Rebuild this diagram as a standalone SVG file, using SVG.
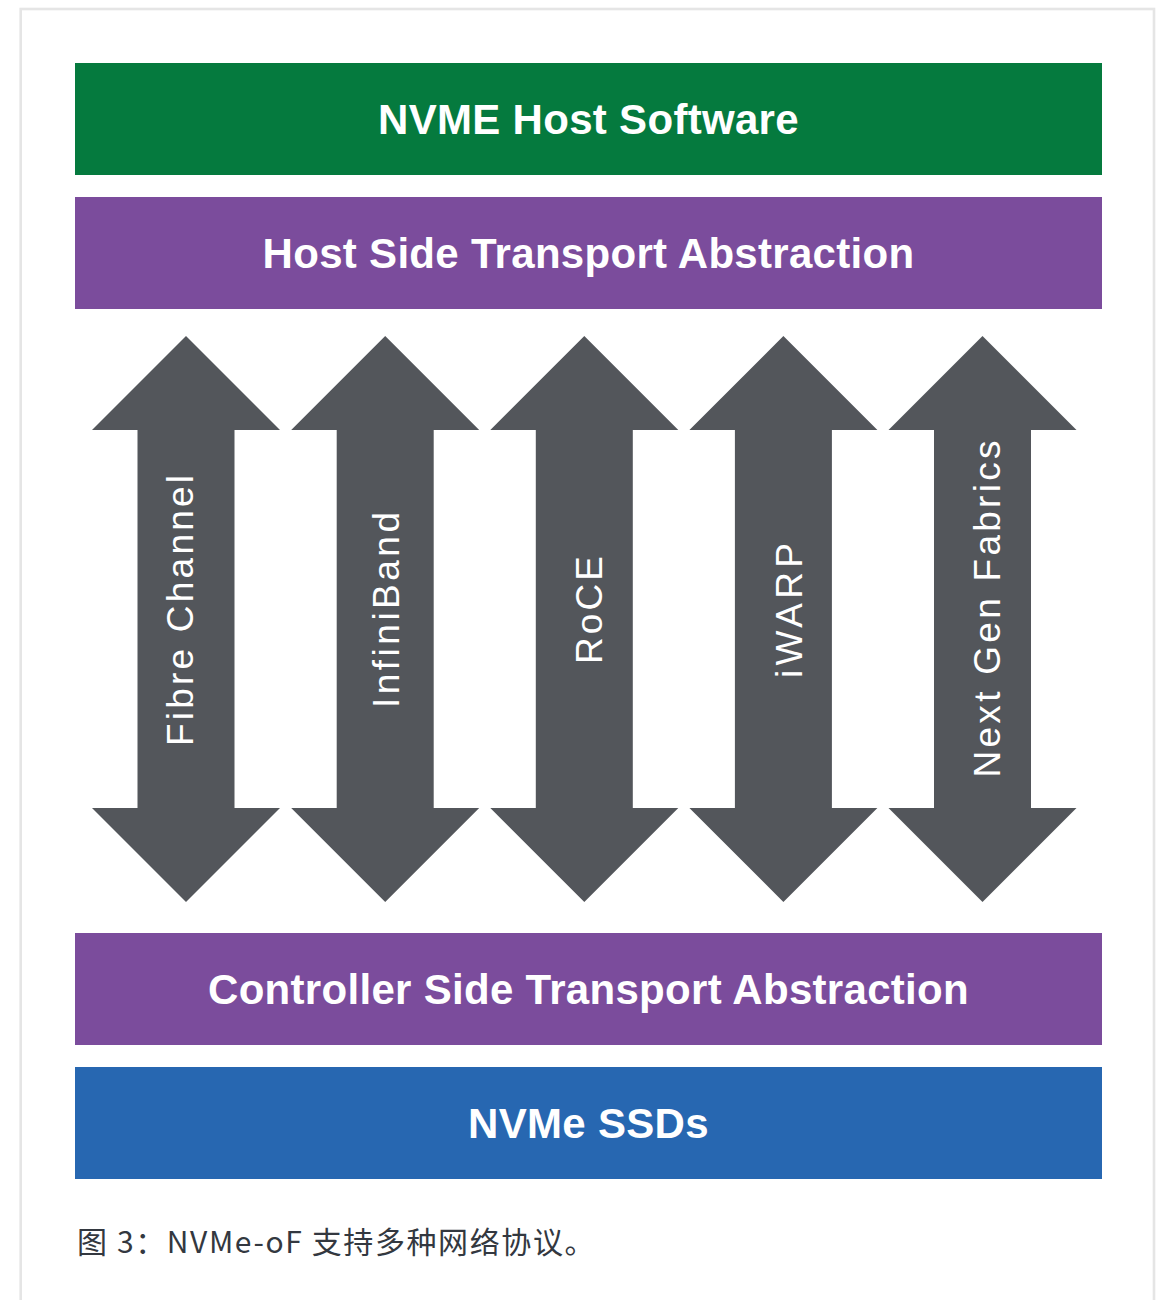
<svg xmlns="http://www.w3.org/2000/svg" xmlns:xlink="http://www.w3.org/1999/xlink" width="1165" height="1300" viewBox="0 0 1165 1300">
<style>
.bar-text{font-family:"Liberation Sans",Arial,sans-serif;font-weight:bold;font-size:42px;fill:#ffffff;text-anchor:middle;letter-spacing:0.3px}
.arrow{fill:#53565b}
.v-text{font-family:"Liberation Sans",Arial,sans-serif;font-size:37px;fill:#ffffff;text-anchor:middle}
.caption{font-family:"Noto Sans CJK SC","Noto Sans",sans-serif;font-size:30px;fill:#333840;letter-spacing:1.6px}
</style>
<defs>
<polygon id="dblArrow" points="0,336 94,430 48.5,430 48.5,808 94,808 0,902 -94,808 -48.5,808 -48.5,430 -94,430"/>
</defs>
<rect x="0" y="0" width="1165" height="1300" fill="#ffffff"/>
<rect x="20.7" y="9" width="1133.3" height="1310" fill="none" stroke="#e5e5e5" stroke-width="2.6"/>
<g id="host-software">
<rect x="75" y="63" width="1027" height="112" fill="#057a3e"/>
<text class="bar-text" x="588.5" y="134">NVME Host Software</text>
</g>
<g id="host-transport">
<rect x="75" y="197" width="1027" height="112" fill="#7b4c9c"/>
<text class="bar-text" x="588.5" y="268">Host Side Transport Abstraction</text>
</g>
<g id="connectors">
<g id="fibre-channel">
<use xlink:href="#dblArrow" class="arrow" transform="translate(186,0)"/>
<text class="v-text" transform="translate(193,610.5) rotate(-90)" x="0" y="0" textLength="271" lengthAdjust="spacing">Fibre Channel</text>
</g>
<g id="infiniband">
<use xlink:href="#dblArrow" class="arrow" transform="translate(385.2,0)"/>
<text class="v-text" transform="translate(399,610) rotate(-90)" x="0" y="0" textLength="196" lengthAdjust="spacing">InfiniBand</text>
</g>
<g id="roce">
<use xlink:href="#dblArrow" class="arrow" transform="translate(584.3,0)"/>
<text class="v-text" transform="translate(602,610) rotate(-90)" x="0" y="0" textLength="108" lengthAdjust="spacing">RoCE</text>
</g>
<g id="iwarp">
<use xlink:href="#dblArrow" class="arrow" transform="translate(783.4,0)"/>
<text class="v-text" transform="translate(802,610.5) rotate(-90)" x="0" y="0" textLength="135" lengthAdjust="spacing">iWARP</text>
</g>
<g id="next-gen-fabrics">
<use xlink:href="#dblArrow" class="arrow" transform="translate(982.5,0)"/>
<text class="v-text" transform="translate(1000,609) rotate(-90)" x="0" y="0" textLength="337" lengthAdjust="spacing">Next Gen Fabrics</text>
</g>
</g>
<g id="controller-transport">
<rect x="75" y="933" width="1027" height="112" fill="#7b4c9c"/>
<text class="bar-text" x="588.5" y="1004">Controller Side Transport Abstraction</text>
</g>
<g id="nvme-ssds">
<rect x="75" y="1067" width="1027" height="112" fill="#2767b1"/>
<text class="bar-text" x="588.5" y="1138">NVMe SSDs</text>
</g>
<text class="caption" x="77" y="1253">图 3：NVMe-oF 支持多种网络协议。</text>
</svg>
